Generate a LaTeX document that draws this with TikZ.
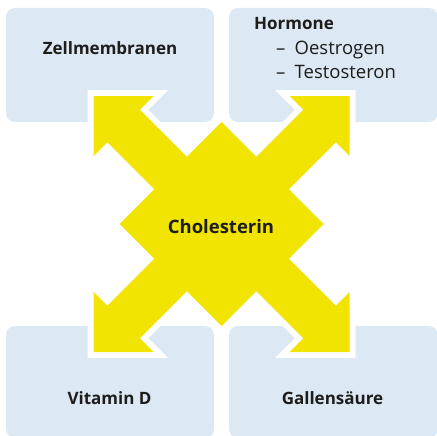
\documentclass[tikz,border=0pt]{standalone}
\usepackage{fontspec}
\setmainfont{Open Sans}
\definecolor{boxblue}{RGB}{220,232,243}
\definecolor{xyellow}{RGB}{241,228,0}
\definecolor{txt}{RGB}{29,29,27}
\begin{document}
\begin{tikzpicture}[x=1pt,y=-1pt,
  box/.style={fill=boxblue, draw=none, rounded corners=9pt, inner sep=0pt},
  lbl/.style={text=txt, inner sep=0pt, font=\fontsize{17}{20}\selectfont\bfseries},
  lblr/.style={text=txt, inner sep=0pt, font=\fontsize{18.5}{22}\selectfont},
]
\useasboundingbox (0,0) rectangle (436,436);
\node[box, minimum width=208pt, minimum height=114pt] (b1) at (110,65) {};
\node[box, minimum width=209pt, minimum height=114pt] (b2) at (333.5,65) {};
\node[box, minimum width=208pt, minimum height=112pt] (b3) at (110,382) {};
\node[box, minimum width=209pt, minimum height=112pt] (b4) at (333.5,382) {};
\begin{scope}[shift={(221.7,224)}]
\def\xshape{(0,-102) -- (34.75,-67.25) -- (81.75,-114.25) -- (68,-128) -- (128,-128) -- (128,-68) -- (114.25,-81.75) -- (67.25,-34.75)
 -- (102,0) -- (67.25,34.75) -- (114.25,81.75) -- (128,68) -- (128,128) -- (68,128) -- (81.75,114.25) -- (34.75,67.25)
 -- (0,102) -- (-34.75,67.25) -- (-81.75,114.25) -- (-68,128) -- (-128,128) -- (-128,68) -- (-114.25,81.75) -- (-67.25,34.75)
 -- (-102,0) -- (-67.25,-34.75) -- (-114.25,-81.75) -- (-128,-68) -- (-128,-128) -- (-68,-128) -- (-81.75,-114.25) -- (-34.75,-67.25) -- cycle}
\draw[white, line width=12pt, line join=miter] \xshape;
\fill[xyellow] \xshape;
\end{scope}
\node[lbl, anchor=base] (t1) at (110,55) {Zellmembranen};
\node[lbl, anchor=base west] (t2) at (254,30) {Hormone};
\node[lblr, anchor=base west] (t2a) at (276,54.3) {–\hspace{0.5em}Oestrogen};
\node[lblr, anchor=base west] (t2b) at (276,78.3) {–\hspace{0.5em}Testosteron};
\node[lbl, anchor=base, font=\fontsize{18.5}{22}\selectfont\bfseries] (c) at (221,233.3) {Cholesterin};
\node[lbl, anchor=base] (t3) at (109.5,404.3) {Vitamin D};
\node[lbl, anchor=base] (t4) at (332.5,404.3) {Gallensäure};
\end{tikzpicture}
\end{document}
